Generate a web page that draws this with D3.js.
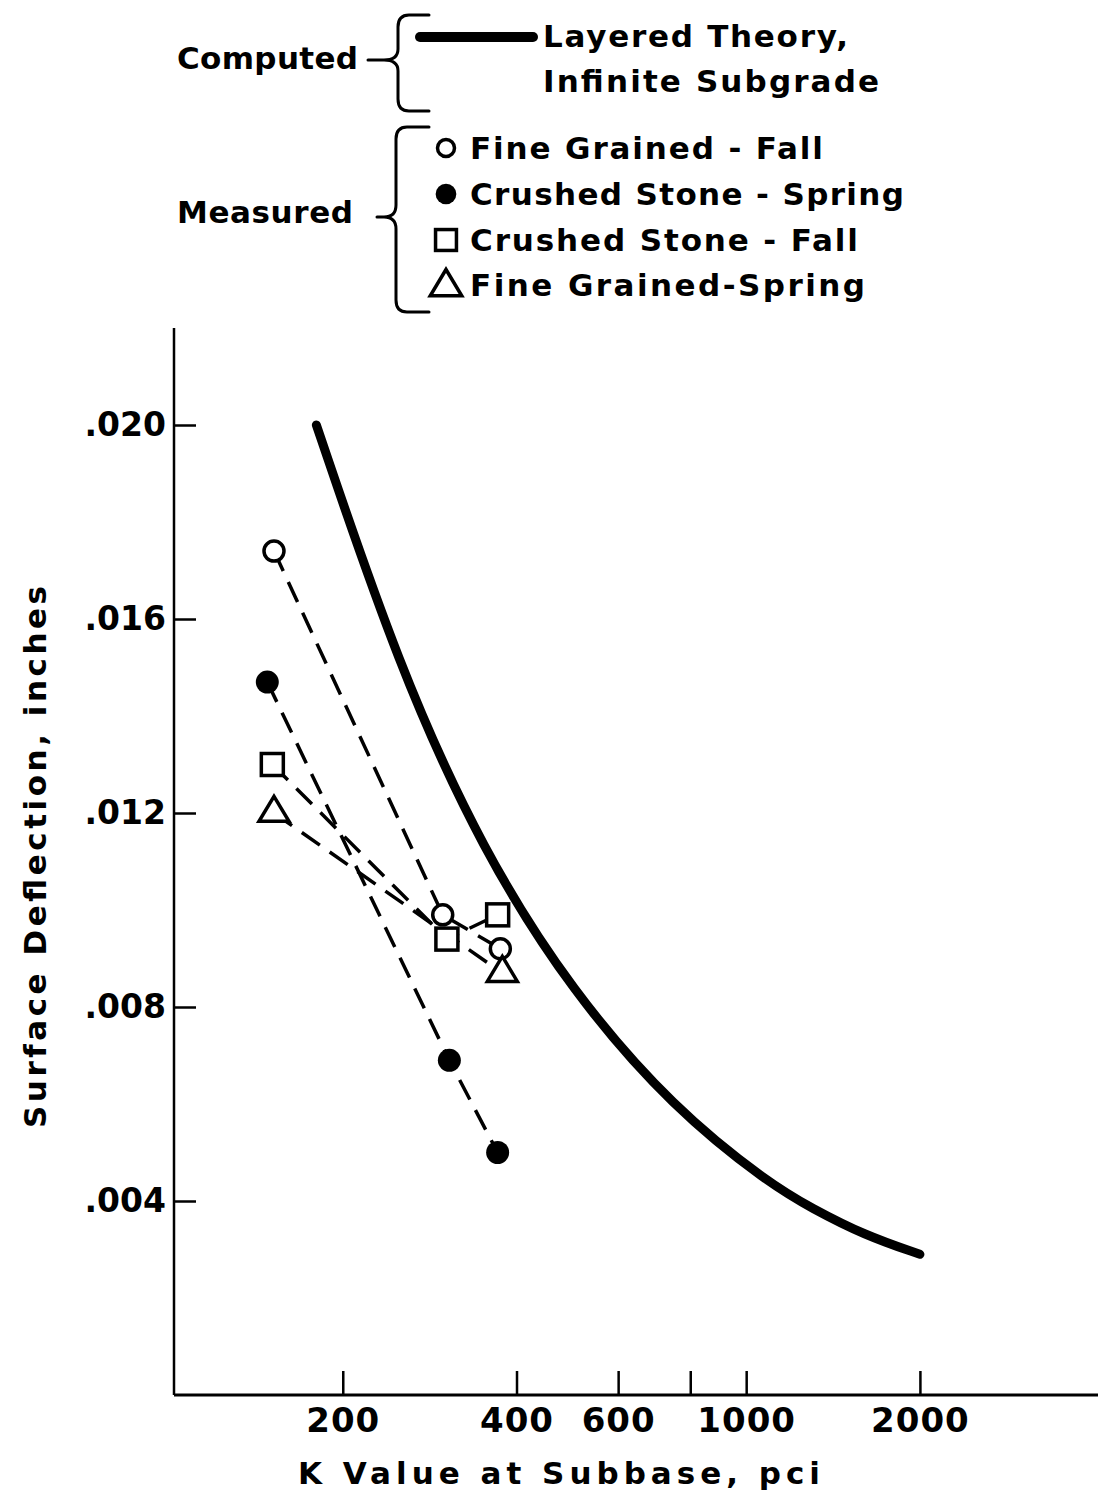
<!DOCTYPE html>
<html>
<head>
<meta charset="utf-8">
<script src="https://cdn.jsdelivr.net/npm/d3@7"></script>
<style>
  html, body { margin: 0; padding: 0; background: #fff; }
  svg { display: block; }
  text { font-family: "DejaVu Sans", "Liberation Sans", sans-serif; font-weight: bold; fill: #000; }
</style>
</head>
<body>
<svg id="chart" width="1098" height="1495"></svg>
<script>
// Computed curve: layered theory, infinite subgrade
const theoryK = [180, 250, 350, 500, 750, 1100, 1300, 1600, 2000];
const theoryD = [.0200, .0150, .0112, .0083, .0059, .00435, .00385, .0033, .0029];

// Measured series
const fineFallK = [152, 298, 375];
const fineFallD = [.0174, .0099, .0092];
const crushedSpringK = [148, 306, 371];
const crushedSpringD = [.0147, .0069, .0050];
const crushedFallK = [151, 303, 371];
const crushedFallD = [.0130, .0094, .0099];
const fineSpringK = [152, 378];
const fineSpringD = [.0120, .0087];

// Axis ticks
const xTicks = [200, 400, 600, 800, 1000, 2000];
const xTickLabels = ["200", "400", "600", "", "1000", "2000"];
const yTicks = [.004, .008, .012, .016, .020];
const yTickLabels = [".004", ".008", ".012", ".016", ".020"];

const svg = d3.select("#chart");

const x = d3.scaleLog().domain([102, 4070]).range([174, 1098]);
const y = d3.scaleLinear().domain([0, .022]).range([1395, 328]);

// ---- axes ----
const xAxis = d3.axisBottom(x)
  .tickValues(xTicks)
  .tickSize(-24)
  .tickPadding(13)
  .tickFormat((d, i) => xTickLabels[i]);
const gx = svg.append("g").attr("transform", `translate(0,${y(0)})`).call(xAxis);
gx.select(".domain").remove();
gx.selectAll(".tick line").attr("stroke", "#000").attr("stroke-width", 2.5);
gx.selectAll(".tick text").style("font-size", "34px").style("letter-spacing", "1px").attr("fill", "#000");

const yAxis = d3.axisLeft(y)
  .tickValues(yTicks)
  .tickSize(-22)
  .tickPadding(8)
  .tickFormat((d, i) => yTickLabels[i]);
const gy = svg.append("g").attr("transform", `translate(${x.range()[0]},0)`).call(yAxis);
gy.select(".domain").remove();
gy.selectAll(".tick line").attr("stroke", "#000").attr("stroke-width", 2.5);
gy.selectAll(".tick text").style("font-size", "33px").attr("fill", "#000");

// axis frame lines
svg.append("line")
  .attr("x1", x.range()[0]).attr("x2", x.range()[1])
  .attr("y1", y(0)).attr("y2", y(0))
  .attr("stroke", "#000").attr("stroke-width", 3);
svg.append("line")
  .attr("x1", x.range()[0]).attr("x2", x.range()[0])
  .attr("y1", y(0)).attr("y2", y.range()[1])
  .attr("stroke", "#000").attr("stroke-width", 2.5);

// axis titles
svg.append("text")
  .attr("x", 298).attr("y", 1484)
  .attr("textLength", 522).attr("lengthAdjust", "spacing")
  .style("font-size", "31px")
  .text("K Value at Subbase, pci");

svg.append("text")
  .attr("transform", "translate(46,1128) rotate(-90)")
  .attr("textLength", 542).attr("lengthAdjust", "spacing")
  .style("font-size", "31px")
  .text("Surface Deflection, inches");

// ---- computed curve ----
const theory = theoryK.map((k, i) => [k, theoryD[i]]);
svg.append("path")
  .datum(theory)
  .attr("fill", "none")
  .attr("stroke", "#000")
  .attr("stroke-width", 9)
  .attr("stroke-linecap", "round")
  .attr("stroke-linejoin", "round")
  .attr("d", d3.line().x(d => x(d[0])).y(d => y(d[1])).curve(d3.curveBasis));

// ---- measured series ----
const series = [
  { k: fineFallK, d: fineFallD, shape: "openCircle" },
  { k: crushedSpringK, d: crushedSpringD, shape: "filledCircle" },
  { k: crushedFallK, d: crushedFallD, shape: "square" },
  { k: fineSpringK, d: fineSpringD, shape: "triangle" }
];

const dashLine = d3.line().x(d => x(d[0])).y(d => y(d[1]));
series.forEach(s => {
  const pts = s.k.map((k, i) => [k, s.d[i]]);
  svg.append("path")
    .datum(pts)
    .attr("fill", "none")
    .attr("stroke", "#000")
    .attr("stroke-width", 3.5)
    .attr("stroke-dasharray", "22,12")
    .attr("d", dashLine);
});

function drawMarker(g, shape, cx, cy, scale) {
  const sw = 3.5;
  if (shape === "openCircle") {
    g.append("circle").attr("cx", cx).attr("cy", cy).attr("r", 10 * scale)
      .attr("fill", "#fff").attr("stroke", "#000").attr("stroke-width", sw);
  } else if (shape === "filledCircle") {
    g.append("circle").attr("cx", cx).attr("cy", cy).attr("r", 11.5 * scale)
      .attr("fill", "#000");
  } else if (shape === "square") {
    const h = 11 * scale;
    g.append("rect").attr("x", cx - h).attr("y", cy - h).attr("width", 2 * h).attr("height", 2 * h)
      .attr("fill", "#fff").attr("stroke", "#000").attr("stroke-width", sw);
  } else if (shape === "triangle") {
    const w = 15 * scale, ht = 25 * scale;
    const top = cy - ht * 2 / 3, bot = cy + ht / 3;
    g.append("path")
      .attr("d", `M${cx},${top}L${cx - w},${bot}L${cx + w},${bot}Z`)
      .attr("fill", "#fff").attr("stroke", "#000").attr("stroke-width", sw)
      .attr("stroke-linejoin", "miter");
  }
}

const gm = svg.append("g");
series.forEach(s => {
  s.k.forEach((k, i) => drawMarker(gm, s.shape, x(k), y(s.d[i]), 1));
});

// ---- legend ----
const lg = svg.append("g");
const braceStyle = p => lg.append("path").attr("d", p)
  .attr("fill", "none").attr("stroke", "#000").attr("stroke-width", 3)
  .attr("stroke-linecap", "round").attr("stroke-linejoin", "round");

// brace for the computed group
braceStyle("M429,15 L409,15 Q398,15 398,27 L398,49 Q398,60 384,60 L368,60 M384,60 Q398,60 398,71 L398,99 Q398,111 409,111 L429,111");
// brace for the measured group
braceStyle("M429,127 L407,127 Q396,127 396,139 L396,205 Q396,217 384,217 L377,217 M384,217 Q396,217 396,229 L396,300 Q396,312 407,312 L429,312");

lg.append("text").attr("x", 177).attr("y", 69)
  .attr("textLength", 181).attr("lengthAdjust", "spacing")
  .style("font-size", "31px").text("Computed");
lg.append("text").attr("x", 177).attr("y", 223)
  .attr("textLength", 176).attr("lengthAdjust", "spacing")
  .style("font-size", "31px").text("Measured");

lg.append("line").attr("x1", 420).attr("x2", 533).attr("y1", 37).attr("y2", 37)
  .attr("stroke", "#000").attr("stroke-width", 10).attr("stroke-linecap", "round");

const legendText = [
  { t: "Layered Theory,", x: 543, y: 47, w: 305 },
  { t: "Infinite Subgrade", x: 543, y: 92, w: 336 }
];
legendText.forEach(d => lg.append("text").attr("x", d.x).attr("y", d.y)
  .attr("textLength", d.w).attr("lengthAdjust", "spacing")
  .style("font-size", "31px").text(d.t));

const legendItems = [
  { shape: "openCircle", label: "Fine Grained - Fall", y: 159, w: 353, s: 0.85 },
  { shape: "filledCircle", label: "Crushed Stone - Spring", y: 205, w: 434, s: 0.9 },
  { shape: "square", label: "Crushed Stone - Fall", y: 251, w: 388, s: 0.95 },
  { shape: "triangle", label: "Fine Grained-Spring", y: 296, w: 395, s: 1.05 }
];
legendItems.forEach(d => {
  drawMarker(lg, d.shape, 446, d.y - 11 + (d.shape === "triangle" ? 2 : 0), d.s);
  lg.append("text").attr("x", 470).attr("y", d.y)
    .attr("textLength", d.w).attr("lengthAdjust", "spacing")
    .style("font-size", "31px").text(d.label);
});
</script>
</body>
</html>
